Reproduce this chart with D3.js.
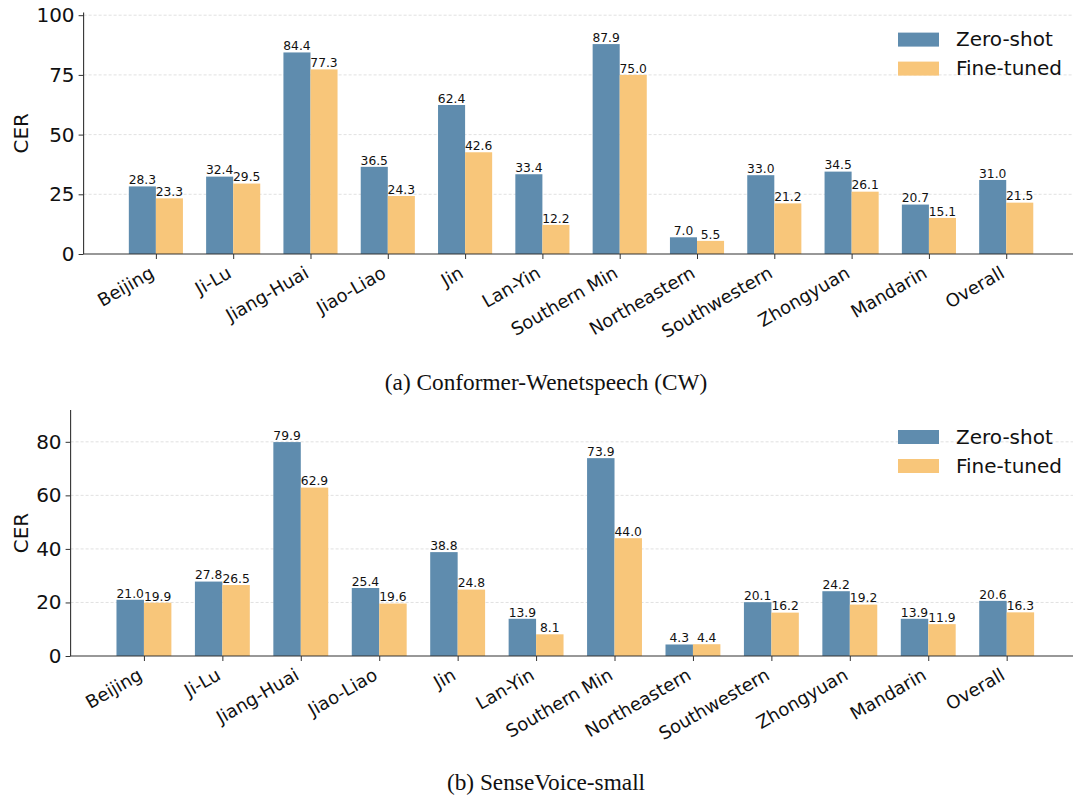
<!DOCTYPE html>
<html>
<head>
<meta charset="utf-8">
<script src="https://cdn.jsdelivr.net/npm/d3@7"></script>
<style>
  html, body { margin: 0; padding: 0; background: #fff; }
  svg { display: block; }
</style>
</head>
<body>
<svg id="chart" width="1073" height="798"></svg>
<script>
const categories = ["Beijing", "Ji-Lu", "Jiang-Huai", "Jiao-Liao", "Jin", "Lan-Yin", "Southern Min", "Northeastern", "Southwestern", "Zhongyuan", "Mandarin", "Overall"];
const seriesNames = ["Zero-shot", "Fine-tuned"];
const cwZeroShot = [28.3, 32.4, 84.4, 36.5, 62.4, 33.4, 87.9, 7.0, 33.0, 34.5, 20.7, 31.0];
const cwFineTuned = [23.3, 29.5, 77.3, 24.3, 42.6, 12.2, 75.0, 5.5, 21.2, 26.1, 15.1, 21.5];
const svZeroShot = [21.0, 27.8, 79.9, 25.4, 38.8, 13.9, 73.9, 4.3, 20.1, 24.2, 13.9, 20.6];
const svFineTuned = [19.9, 26.5, 62.9, 19.6, 24.8, 8.1, 44.0, 4.4, 16.2, 19.2, 11.9, 16.3];
const cwTicks = [0, 25, 50, 75, 100];
const svTicks = [0, 20, 40, 60, 80];
const captions = ["(a) Conformer-Wenetspeech (CW)", "(b) SenseVoice-small"];

const colors = ["#5f8cae", "#f8c67a"];
const barW = 0.35;
const svg = d3.select("#chart");

function panel(cfg) {
  const { left, right, top, bottom, zs, ft, ticks, caption, capY } = cfg;
  const ymax = d3.max(zs.concat(ft)) * 1.15;
  const x = d3.scaleLinear().domain([-0.935, categories.length - 1 + 0.935]).range([left, right]);
  const y = d3.scaleLinear().domain([0, ymax]).range([bottom, top]);
  const g = svg.append("g");

  // grid
  g.append("g").selectAll("line").data(ticks.filter(t => t > 0)).join("line")
    .attr("x1", left).attr("x2", right)
    .attr("y1", d => y(d)).attr("y2", d => y(d))
    .attr("stroke", "#d9d9d9").attr("stroke-width", 0.8)
    .attr("stroke-dasharray", "3,2");

  const series = [zs, ft];
  series.forEach((vals, si) => {
    const off = si === 0 ? -barW : 0;
    g.append("g").selectAll("rect").data(vals).join("rect")
      .attr("x", (d, i) => x(i + off))
      .attr("width", x(barW) - x(0))
      .attr("y", d => y(d))
      .attr("height", d => y(0) - y(d))
      .attr("fill", colors[si]);
    g.append("g").selectAll("text").data(vals).join("text")
      .attr("x", (d, i) => x(i + off + barW / 2))
      .attr("y", d => y(d) - 2.2)
      .attr("text-anchor", "middle")
      .attr("font-family", "DejaVu Sans")
      .attr("font-size", 12.3)
      .attr("fill", "#111")
      .text(d => d.toFixed(1));
  });

  // y axis
  const ya = g.append("g").attr("transform", `translate(${left},0)`)
    .call(d3.axisLeft(y).tickValues(ticks).tickSize(5).tickPadding(4).tickFormat(d3.format("d")));
  ya.select(".domain").attr("d", `M0,${top}V${bottom}`).attr("stroke", "#333").attr("stroke-width", 1.1);
  ya.selectAll(".tick line").attr("stroke", "#333").attr("stroke-width", 1);
  ya.selectAll(".tick text").attr("font-family", "DejaVu Sans").attr("font-size", 20).attr("fill", "#111");

  // x axis
  const xa = g.append("g").attr("transform", `translate(0,${bottom})`)
    .call(d3.axisBottom(x).tickValues(d3.range(categories.length)).tickSize(5).tickFormat(i => categories[i]));
  xa.select(".domain").attr("d", `M${left},0H${right}`).attr("stroke", "#333").attr("stroke-width", 1.1);
  xa.selectAll(".tick line").attr("stroke", "#333").attr("stroke-width", 1);
  xa.selectAll(".tick text")
    .attr("font-family", "DejaVu Sans").attr("font-size", 18).attr("fill", "#111")
    .attr("text-anchor", "end")
    .attr("dy", null).attr("y", null)
    .attr("transform", "translate(-1,22.5) rotate(-30)");

  // y label
  g.append("text")
    .attr("transform", `translate(28,${(top + bottom) / 2}) rotate(-90)`)
    .attr("text-anchor", "middle")
    .attr("font-family", "DejaVu Sans").attr("font-size", 20).attr("fill", "#111")
    .text("CER");

  // legend
  const lg = g.append("g");
  seriesNames.forEach((name, si) => {
    const ry = top + 20 + si * 29;
    lg.append("rect").attr("x", 898).attr("y", ry).attr("width", 41).attr("height", 14).attr("fill", colors[si]);
    lg.append("text").attr("x", 956).attr("y", ry + 13.5)
      .attr("font-family", "DejaVu Sans").attr("font-size", 20).attr("fill", "#111").text(name);
  });

  // caption
  svg.append("text").attr("x", 546).attr("y", capY).attr("text-anchor", "middle")
    .attr("font-family", "Liberation Serif").attr("font-size", 23.3).attr("fill", "#111")
    .text(caption);
}

panel({ left: 83.6, right: 1078.5, top: 12.6, bottom: 254, zs: cwZeroShot, ft: cwFineTuned, ticks: cwTicks, caption: captions[0], capY: 390 });
panel({ left: 70.6, right: 1080, top: 410, bottom: 656, zs: svZeroShot, ft: svFineTuned, ticks: svTicks, caption: captions[1], capY: 790 });
</script>
</body>
</html>
